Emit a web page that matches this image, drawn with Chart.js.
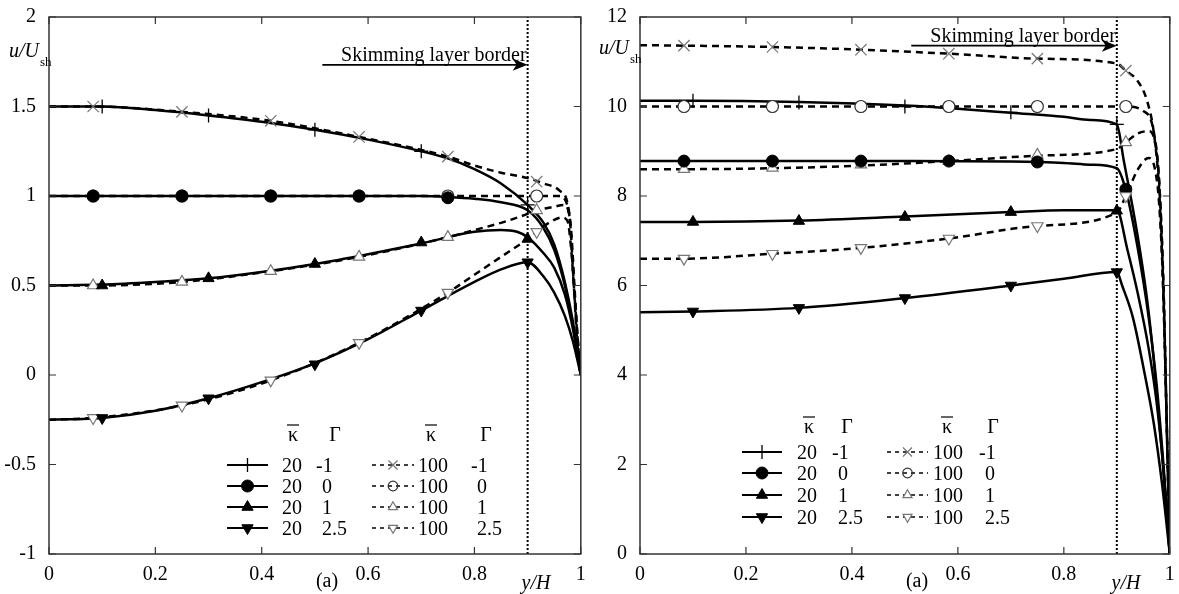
<!DOCTYPE html>
<html>
<head>
<meta charset="utf-8">
<script src="https://cdn.jsdelivr.net/npm/chart.js@4.4.0/dist/chart.umd.min.js"></script>
<style>
  html, body { margin: 0; padding: 0; background: #fff; }
  #wrap { position: relative; width: 1179px; height: 594px; }
  canvas { position: absolute; top: 0; }
</style>
</head>
<body>
<div id="wrap">
  <canvas id="chartA" width="590" height="594" style="left:0"></canvas>
  <canvas id="chartB" width="589" height="594" style="left:590px"></canvas>
</div>
<script>
// ---- shared ----
const xTicks = [0, 0.2, 0.4, 0.6, 0.8, 1];
const xPlain = [0.1, 0.3, 0.5, 0.7, 0.9];                 // + ▲ ▼ (kappa 20)
const xBar = [0.083, 0.25, 0.417, 0.583, 0.75, 0.917];    // × ○ △ ▽ ●
const xBorder = 0.9;
const legendKappa = ['20', '100'];
const legendGamma = ['-1', '0', '1', '2.5'];

// ---- left panel ----
const leftTicks = [-1, -0.5, 0, 0.5, 1, 1.5, 2];
const leftPlus = [1.5, 1.45, 1.37, 1.25, 0.95];
const leftDot = [1, 1, 1, 1, 0.99];
const leftUp = [0.5, 0.54, 0.62, 0.74, 0.76];
const leftDown = [-0.24, -0.13, 0.06, 0.36, 0.63];
const leftCross = [1.5, 1.47, 1.42, 1.33, 1.22, 1.08];
const leftRing = [1, 1, 1, 1, 1, 1];
const leftOpenUp = [0.5, 0.52, 0.58, 0.66, 0.77, 0.92];
const leftOpenDown = [-0.24, -0.17, -0.03, 0.18, 0.46, 0.8];

const leftK20m1 = [[0,1.5],[0.1,1.5],[0.2,1.48],[0.3,1.45],[0.4,1.415],[0.5,1.37],[0.6,1.315],[0.7,1.25],[0.75,1.21],[0.8,1.15],[0.85,1.07],[0.9,0.95],[0.93,0.85],[0.95,0.73],[0.97,0.52],[0.985,0.3],[1,0]];
const leftK20g0 = [[0,1],[0.7,1],[0.75,0.995],[0.8,0.985],[0.85,0.965],[0.9,0.92],[0.93,0.82],[0.95,0.7],[0.97,0.5],[0.985,0.28],[1,0]];
const leftK20g1 = [[0,0.5],[0.1,0.505],[0.2,0.52],[0.3,0.54],[0.4,0.575],[0.5,0.62],[0.6,0.675],[0.7,0.735],[0.8,0.8],[0.85,0.81],[0.88,0.8],[0.9,0.77],[0.93,0.68],[0.95,0.6],[0.97,0.45],[0.985,0.26],[1,0]];
const leftK20g25 = [[0,-0.25],[0.1,-0.24],[0.2,-0.2],[0.3,-0.13],[0.4,-0.04],[0.5,0.065],[0.6,0.2],[0.7,0.36],[0.8,0.52],[0.85,0.59],[0.9,0.63],[0.93,0.55],[0.95,0.46],[0.97,0.33],[0.985,0.19],[1,0]];
const leftK100m1 = [[0,1.5],[0.083,1.5],[0.25,1.47],[0.417,1.42],[0.583,1.33],[0.75,1.22],[0.8,1.17],[0.85,1.13],[0.9,1.1],[0.93,1.07],[0.96,1.03],[0.975,0.96],[0.982,0.8],[0.988,0.5],[0.994,0.2],[1,0]];
const leftK100g0 = [[0,1],[0.96,1],[0.972,0.97],[0.98,0.85],[0.986,0.55],[0.993,0.2],[1,0]];
const leftK100g1 = [[0,0.5],[0.083,0.5],[0.25,0.52],[0.417,0.58],[0.583,0.66],[0.75,0.77],[0.8,0.81],[0.85,0.85],[0.9,0.9],[0.917,0.92],[0.95,0.94],[0.968,0.95],[0.978,0.9],[0.985,0.6],[0.993,0.25],[1,0]];
const leftK100g25 = [[0,-0.25],[0.083,-0.24],[0.25,-0.17],[0.417,-0.03],[0.583,0.18],[0.75,0.46],[0.8,0.56],[0.85,0.66],[0.9,0.76],[0.917,0.8],[0.94,0.85],[0.965,0.88],[0.975,0.86],[0.982,0.7],[0.988,0.45],[0.994,0.2],[1,0]];

// ---- right panel ----
const rightTicks = [0, 2, 4, 6, 8, 10, 12];
const rightPlus = [10.13, 10.09, 10.0, 9.87, 9.6];
const rightDot = [8.78, 8.78, 8.78, 8.78, 8.76, 8.15];
const rightUp = [7.42, 7.44, 7.53, 7.64, 7.67];
const rightDown = [5.42, 5.5, 5.72, 6.0, 6.3];
const rightCross = [11.36, 11.33, 11.27, 11.18, 11.07, 10.8];
const rightRing = [10, 10, 10, 10, 10, 10];
const rightOpenUp = [8.6, 8.63, 8.7, 8.78, 8.92, 9.2];
const rightOpenDown = [6.6, 6.71, 6.84, 7.05, 7.33, 8.0];

const rightK20m1 = [[0,10.13],[0.1,10.13],[0.3,10.1],[0.5,10.02],[0.6,9.95],[0.7,9.86],[0.8,9.77],[0.85,9.7],[0.9,9.6],[0.913,8.8],[0.938,7.2],[0.957,5.7],[0.97,4.3],[0.985,2.3],[1,0]];
const rightK20g0 = [[0,8.78],[0.5,8.78],[0.7,8.77],[0.8,8.74],[0.85,8.7],[0.9,8.62],[0.917,8.13],[0.94,6.8],[0.96,5.3],[0.975,3.8],[0.988,2],[1,0]];
const rightK20g1 = [[0,7.42],[0.1,7.42],[0.3,7.45],[0.5,7.54],[0.7,7.64],[0.8,7.68],[0.9,7.68],[0.92,6.8],[0.94,5.8],[0.96,4.6],[0.975,3.4],[0.988,1.9],[1,0]];
const rightK20g25 = [[0,5.4],[0.1,5.42],[0.3,5.5],[0.5,5.72],[0.7,6.0],[0.8,6.15],[0.9,6.3],[0.91,6.0],[0.93,5.3],[0.953,4.0],[0.97,2.9],[0.985,1.6],[1,0]];
const rightK100m1 = [[0,11.37],[0.083,11.36],[0.25,11.33],[0.417,11.27],[0.583,11.18],[0.75,11.07],[0.9,10.96],[0.917,10.8],[0.938,10.59],[0.957,10.13],[0.97,9.4],[0.979,8.3],[0.985,6.8],[0.992,4],[1,0]];
const rightK100g0 = [[0,10],[0.917,10],[0.95,9.9],[0.97,9.42],[0.98,8.3],[0.988,6],[0.994,3],[1,0]];
const rightK100g1 = [[0,8.6],[0.083,8.6],[0.25,8.62],[0.417,8.68],[0.583,8.78],[0.75,8.9],[0.9,9.05],[0.917,9.2],[0.94,9.4],[0.96,9.45],[0.972,9.2],[0.98,8.3],[0.988,6],[0.994,3],[1,0]];
const rightK100g25 = [[0,6.6],[0.083,6.6],[0.25,6.71],[0.417,6.84],[0.583,7.05],[0.75,7.33],[0.9,7.63],[0.917,8.0],[0.94,8.6],[0.96,8.85],[0.972,8.6],[0.98,7.8],[0.988,5.8],[0.994,3],[1,0]];

const serif = 'Liberation Serif';

// marker looks
const mPlus = { pointStyle: 'cross', radius: 7, rotation: 0, fill: '#000', stroke: '#000', bw: 1.3 };
const mDot = { pointStyle: 'circle', radius: 6, rotation: 0, fill: '#000', stroke: '#000', bw: 1 };
const mUp = { pointStyle: 'triangle', radius: 6.5, rotation: 0, fill: '#000', stroke: '#000', bw: 1 };
const mDown = { pointStyle: 'triangle', radius: 6.5, rotation: 180, fill: '#000', stroke: '#000', bw: 1 };
const mCross = { pointStyle: 'crossRot', radius: 8, rotation: 0, fill: '#777', stroke: '#777', bw: 1.2 };
const mRing = { pointStyle: 'circle', radius: 6, rotation: 0, fill: '#fff', stroke: '#333', bw: 1.2 };
const mOpenUp = { pointStyle: 'triangle', radius: 6.5, rotation: 0, fill: '#fff', stroke: '#777', bw: 1.2 };
const mOpenDown = { pointStyle: 'triangle', radius: 6.5, rotation: 180, fill: '#fff', stroke: '#777', bw: 1.2 };

function pts(xs, ys) {
    return ys.map(function (y, i) { return { x: xs[i], y: y }; });
}

function fmt(v) {
    return String(Math.round(v * 100) / 100);
}

function curve(pairs, dashed) {
    return {
        showLine: true,
        data: pairs.map(function (p) { return { x: p[0], y: p[1] }; }),
        borderColor: '#000',
        borderWidth: 2.5,
        borderDash: dashed ? [7, 5] : [],
        pointRadius: 0,
        cubicInterpolationMode: 'monotone'
    };
}

function marks(xs, ys, m) {
    return {
        showLine: false,
        data: pts(xs, ys),
        pointStyle: m.pointStyle,
        pointRadius: m.radius,
        pointRotation: m.rotation,
        pointBackgroundColor: m.fill,
        pointBorderColor: m.stroke,
        pointBorderWidth: m.bw
    };
}

// frame with inward ticks on all four sides
const framePlugin = {
    id: 'frame',
    afterDatasetsDraw(chart) {
        const ctx = chart.ctx;
        const a = chart.chartArea;
        const xs = chart.scales.x, ys = chart.scales.y;
        ctx.save();
        ctx.strokeStyle = '#333';
        ctx.lineWidth = 1.5;
        ctx.strokeRect(a.left, a.top, a.right - a.left, a.bottom - a.top);
        ctx.lineWidth = 1.2;
        ctx.beginPath();
        xs.ticks.forEach(function (t) {
            const px = xs.getPixelForValue(t.value);
            ctx.moveTo(px, a.bottom); ctx.lineTo(px, a.bottom - 7);
            ctx.moveTo(px, a.top); ctx.lineTo(px, a.top + 7);
        });
        ys.ticks.forEach(function (t) {
            const py = ys.getPixelForValue(t.value);
            ctx.moveTo(a.left, py); ctx.lineTo(a.left + 7, py);
            ctx.moveTo(a.right, py); ctx.lineTo(a.right - 7, py);
        });
        ctx.stroke();
        ctx.restore();
    }
};

function drawMarker(ctx, m, x, y) {
    ctx.fillStyle = m.fill;
    ctx.strokeStyle = m.stroke;
    ctx.lineWidth = m.bw;
    Chart.helpers.drawPoint(ctx, { pointStyle: m.pointStyle, radius: m.radius, rotation: m.rotation, borderWidth: m.bw }, x, y);
}

function drawKappa(ctx, x, y) {
    ctx.textAlign = 'center';
    ctx.fillText('κ', x, y);
    ctx.beginPath();
    ctx.moveTo(x - 6, y - 16);
    ctx.lineTo(x + 6, y - 16);
    ctx.lineWidth = 1.2;
    ctx.strokeStyle = '#000';
    ctx.stroke();
}

// text, arrow and legend for one panel
function notesPlugin(cfg) {
    return {
        id: 'notes',
        afterDraw(chart) {
            const ctx = chart.ctx;
            const xs = chart.scales.x, ys = chart.scales.y;
            ctx.save();
            ctx.fillStyle = '#000';
            ctx.textBaseline = 'alphabetic';

            // y axis title u/U_sh
            ctx.font = 'italic 20px "' + serif + '"';
            ctx.textAlign = 'left';
            ctx.fillText('u/U', 9, cfg.titleY);
            const w = ctx.measureText('u/U').width;
            ctx.font = '13px "' + serif + '"';
            ctx.fillText('sh', 9 + w + 1, cfg.titleY + 9);

            // x axis title and panel tag
            ctx.font = 'italic 20px "' + serif + '"';
            ctx.textAlign = 'center';
            ctx.fillText('y/H', 536, 589);
            ctx.font = '20px "' + serif + '"';
            ctx.fillText('(a)', 327, 587);

            // skimming layer border
            const bx = xs.getPixelForValue(xBorder);
            const ay = ys.getPixelForValue(cfg.arrowY);
            const ax = xs.getPixelForValue(cfg.arrowX);
            ctx.textAlign = 'right';
            ctx.fillText('Skimming layer border', bx - 1, ay - 4);
            ctx.strokeStyle = '#000';
            ctx.lineWidth = 1.8;
            ctx.beginPath();
            ctx.moveTo(ax, ay);
            ctx.lineTo(bx - 6, ay);
            ctx.stroke();
            ctx.beginPath();
            ctx.moveTo(bx, ay);
            ctx.lineTo(bx - 15, ay - 6);
            ctx.lineTo(bx - 11, ay);
            ctx.lineTo(bx - 15, ay + 6);
            ctx.closePath();
            ctx.fill();

            // legend
            const L = cfg.legend;
            ctx.font = '20px "' + serif + '"';
            ctx.fillStyle = '#000';
            drawKappa(ctx, L.k1, L.head);
            ctx.fillStyle = '#000';
            ctx.fillText('Γ', L.g1h, L.head);
            drawKappa(ctx, L.k2, L.head);
            ctx.fillText('Γ', L.g2h, L.head);
            const solidMarks = [mPlus, mDot, mUp, mDown];
            const dashMarks = [mCross, mRing, mOpenUp, mOpenDown];
            L.rows.forEach(function (ry, i) {
                ctx.strokeStyle = '#000';
                ctx.lineWidth = 2;
                ctx.setLineDash([]);
                ctx.beginPath();
                ctx.moveTo(L.s1[0], ry); ctx.lineTo(L.s1[1], ry);
                ctx.stroke();
                drawMarker(ctx, solidMarks[i], (L.s1[0] + L.s1[1]) / 2, ry);
                ctx.strokeStyle = '#000';
                ctx.lineWidth = 1.4;
                ctx.setLineDash([4, 4]);
                ctx.beginPath();
                ctx.moveTo(L.s2[0], ry); ctx.lineTo(L.s2[1], ry);
                ctx.stroke();
                ctx.setLineDash([]);
                const dm = Object.assign({}, dashMarks[i], { radius: dashMarks[i].radius * 0.8 });
                if (i === 1) dm.fill = 'rgba(0,0,0,0)';
                drawMarker(ctx, dm, (L.s2[0] + L.s2[1]) / 2, ry);

                ctx.fillStyle = '#000';
                ctx.font = '20px "' + serif + '"';
                ctx.textAlign = 'left';
                const ty = ry + 7;
                ctx.fillText(legendKappa[0], L.t1, ty);
                ctx.fillText(legendKappa[1], L.t2, ty);
                const off = legendGamma[i] === '-1' ? -6 : 0;
                ctx.fillText(legendGamma[i], L.g1 + off, ty);
                ctx.fillText(legendGamma[i], L.g2 + off, ty);
            });
            ctx.restore();
        }
    };
}

function buildChart(id, yTicks, curves, markSets, cfg) {
    const yMin = yTicks[0], yMax = yTicks[yTicks.length - 1];
    // listed bottom-most first; Chart.js paints the first dataset on top, so reverse at the end
    const datasets = [];
    datasets.push({
        showLine: true,
        data: [{ x: xBorder, y: yMin }, { x: xBorder, y: yMax }],
        borderColor: '#000',
        borderWidth: 2,
        borderDash: [2, 2],
        pointRadius: 0
    });
    curves.forEach(function (c) { datasets.push(curve(c[0], c[1])); });
    markSets.forEach(function (m) { datasets.push(marks(m[0], m[1], m[2])); });
    datasets.reverse();

    const tickFont = { family: serif, size: 20 };
    return new Chart(document.getElementById(id).getContext('2d'), {
        type: 'scatter',
        data: { datasets: datasets },
        options: {
            responsive: false,
            animation: false,
            events: [],
            layout: { padding: { top: 14, right: cfg.padRight, left: 0, bottom: 0 } },
            plugins: { legend: { display: false }, tooltip: { enabled: false } },
            scales: {
                x: {
                    type: 'linear', min: xTicks[0], max: xTicks[xTicks.length - 1],
                    afterBuildTicks(s) { s.ticks = xTicks.map(function (v) { return { value: v }; }); },
                    ticks: { color: '#000', font: tickFont, padding: 1, maxRotation: 0, autoSkip: false, callback: fmt },
                    grid: { display: false },
                    border: { display: false },
                    afterFit(s) { s.height = 40; }
                },
                y: {
                    type: 'linear', min: yMin, max: yMax,
                    afterBuildTicks(s) { s.ticks = yTicks.map(function (v) { return { value: v }; }); },
                    ticks: { color: '#000', font: tickFont, padding: 5, autoSkip: false, callback: fmt },
                    grid: { display: false },
                    border: { display: false },
                    afterFit(s) { s.width = cfg.axisW; }
                }
            }
        },
        plugins: [framePlugin, notesPlugin(cfg)]
    });
}

buildChart('chartA', leftTicks,
    [[leftK100m1, true], [leftK100g0, true], [leftK100g1, true], [leftK100g25, true],
     [leftK20m1, false], [leftK20g0, false], [leftK20g1, false], [leftK20g25, false]],
    [[xBar, leftCross, mCross], [xBar, leftRing, mRing], [xBar, leftOpenUp, mOpenUp],
     [xBar, leftDot, mDot], [xPlain, leftPlus, mPlus], [xPlain, leftUp, mUp],
     [xBar, leftOpenDown, mOpenDown], [xPlain, leftDown, mDown]],
    {
        padRight: 8, axisW: 49, titleY: 57, arrowX: 0.514, arrowY: 1.733,
        legend: { head: 441, k1: 293, g1h: 335, k2: 431, g2h: 486,
                  rows: [465, 486, 507, 528], s1: [227, 268], s2: [372, 414],
                  t1: 282, t2: 418, g1: 322, g2: 477 }
    });

buildChart('chartB', rightTicks,
    [[rightK100m1, true], [rightK100g0, true], [rightK100g1, true], [rightK100g25, true],
     [rightK20m1, false], [rightK20g0, false], [rightK20g1, false], [rightK20g25, false]],
    [[xBar, rightCross, mCross], [xBar, rightRing, mRing], [xBar, rightOpenUp, mOpenUp],
     [xBar, rightDot, mDot], [xPlain, rightPlus, mPlus], [xPlain, rightUp, mUp],
     [xBar, rightOpenDown, mOpenDown], [xPlain, rightDown, mDown]],
    {
        padRight: 6, axisW: 50, titleY: 54, arrowX: 0.512, arrowY: 11.36,
        legend: { head: 433, k1: 219, g1h: 257, k2: 357, g2h: 403,
                  rows: [452, 473, 495, 517], s1: [152, 192], s2: [297, 338],
                  t1: 207, t2: 343, g1: 248, g2: 395 }
    });
</script>
</body>
</html>
